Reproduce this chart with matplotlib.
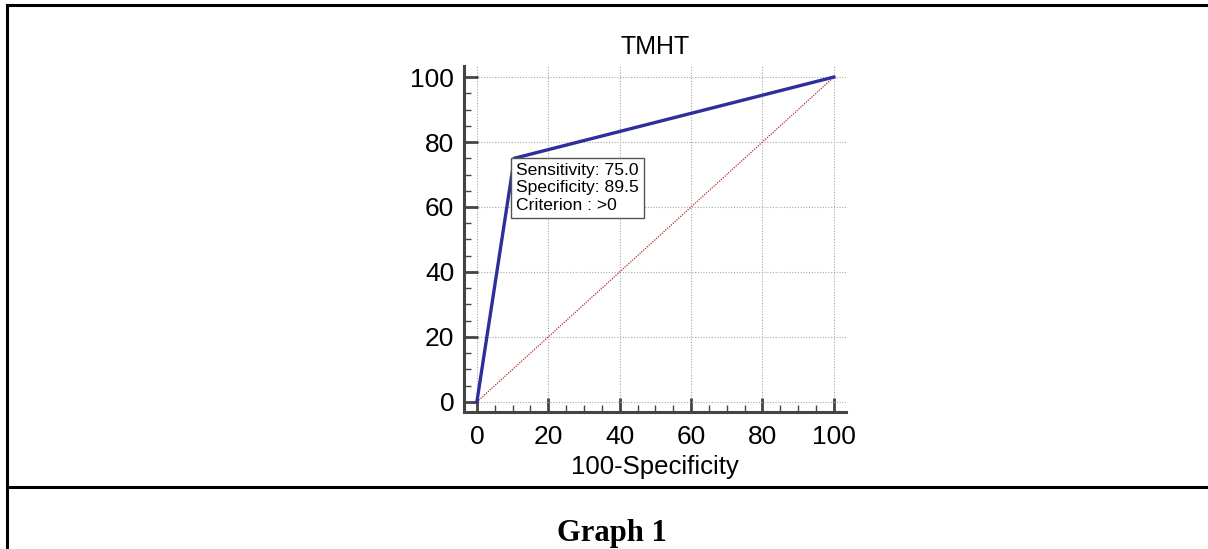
import matplotlib
matplotlib.use("Agg")
import matplotlib.pyplot as plt
from matplotlib.lines import Line2D
from matplotlib.ticker import MultipleLocator

# Data
roc_x = [0, 10.5, 100]          # 100-Specificity
roc_y = [0, 75.0, 100]          # Sensitivity
diag = [0, 100]
title = "TMHT"
xlabel = "100-Specificity"
box_lines = ["Sensitivity: 75.0", "Specificity: 89.5", "Criterion : >0"]
caption = "Graph 1"

W, H = 1208, 549
fig = plt.figure(figsize=(W / 100, H / 100), dpi=100)
plt.rcParams['font.family'] = ['Liberation Sans', 'DejaVu Sans']

def fx(px): return px / W
def fy(py): return 1 - py / H

ax = fig.add_axes([fx(464), fy(412), fx(846) - fx(464), fy(66) - fy(412)])
ax.set_xlim(-3.6, 103.4)
ax.set_ylim(-3.1, 103.4)

ax.plot(roc_x, roc_y, color='#2e2e9c', lw=2.4, solid_joinstyle='miter', zorder=4)
ax.plot(diag, diag, color='#b03030', lw=0.9, ls=(0, (1, 1)), zorder=3)

ax.xaxis.set_major_locator(MultipleLocator(20))
ax.yaxis.set_major_locator(MultipleLocator(20))
ax.xaxis.set_minor_locator(MultipleLocator(5))
ax.yaxis.set_minor_locator(MultipleLocator(5))
ax.grid(True, which='major', color='#a8a8a8', ls=(0, (1, 1.5)), lw=0.8)

for s in ['top', 'right']:
    ax.spines[s].set_visible(False)
for s in ['left', 'bottom']:
    ax.spines[s].set_color('#444444')
    ax.spines[s].set_linewidth(2.2)

ax.tick_params(which='major', direction='in', length=10, width=2, color='#444444',
               labelsize=19, pad=7)
ax.tick_params(axis='x', which='major', pad=9)
ax.tick_params(which='minor', direction='in', length=5, width=1, color='#444444')

ax.set_title(title, fontsize=18, pad=9)
ax.set_xlabel(xlabel, fontsize=18.5, labelpad=5)

ax.text(roc_x[1] + 0.6, roc_y[1] - 1.4, "\n".join(box_lines), fontsize=12.6,
        va='top', ha='left', linespacing=1.22, zorder=5,
        bbox=dict(boxstyle='square,pad=0.3', fc='white', ec='#555555', lw=1))

# Frame of the document table
lw = 2.2
fig.add_artist(Line2D([fx(7), fx(7)], [fy(5), 0], color='black', lw=lw))
fig.add_artist(Line2D([fx(7), 1], [fy(5), fy(5)], color='black', lw=lw))
fig.add_artist(Line2D([fx(7), 1], [fy(487), fy(487)], color='black', lw=lw))

fig.text(fx(612), fy(533), caption, ha='center', va='center', fontsize=22,
         fontweight='bold', family=['Liberation Serif', 'DejaVu Serif'])

fig.savefig("out.png", dpi=100)
